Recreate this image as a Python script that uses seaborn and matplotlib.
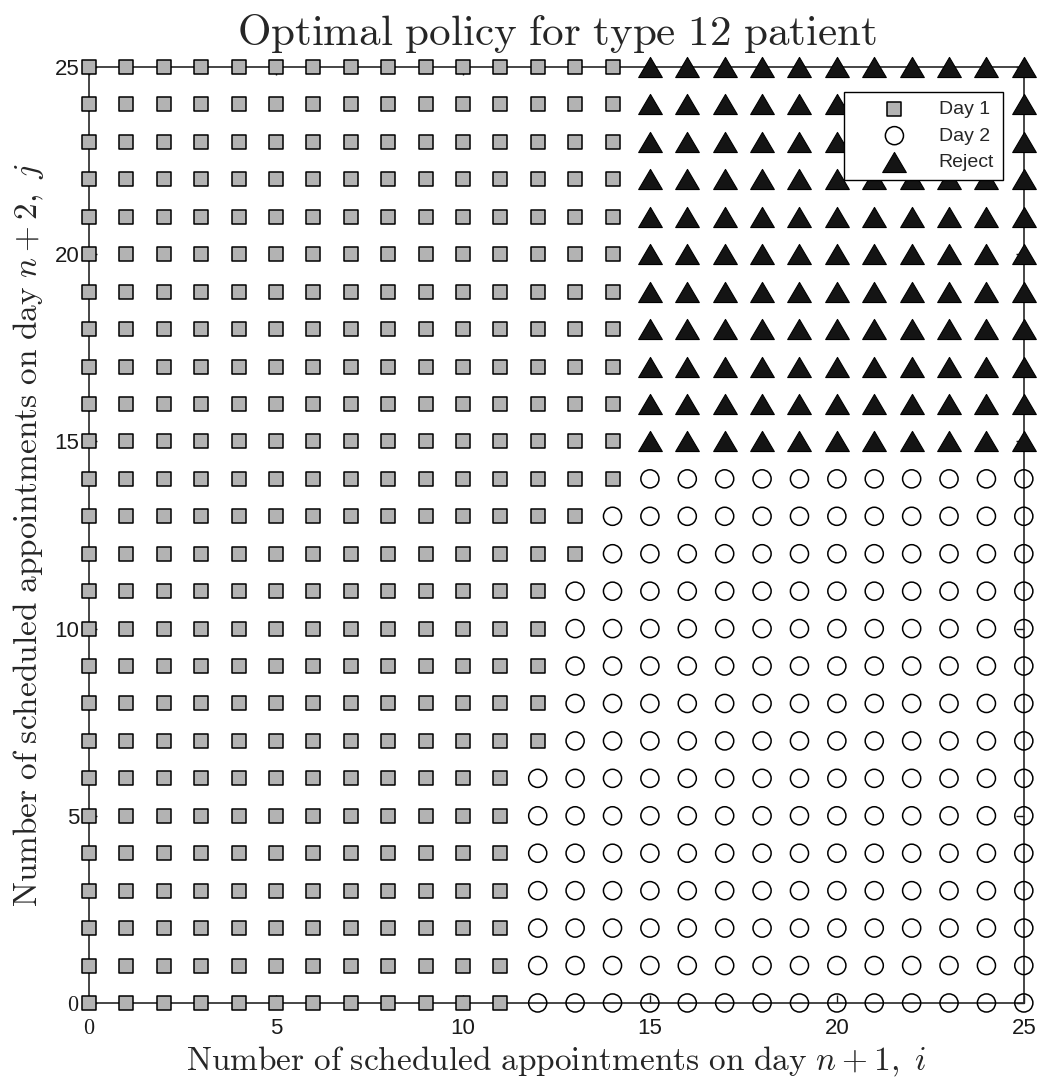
import matplotlib
matplotlib.use("Agg")
import matplotlib.pyplot as plt
import seaborn as sns
import pandas as pd
from matplotlib.markers import MarkerStyle
from matplotlib.path import Path

# Grid of states: scheduled appointments on day n+1 (i) and day n+2 (j)
i_values = list(range(26))
j_values = list(range(26))

# For each row j, the largest i at which the patient is booked on day 1
last_day1_i = [11, 11, 11, 11, 11, 11, 11,
               12, 12, 12, 12, 12,
               13, 13,
               14,
               14, 14, 14, 14, 14, 14, 14, 14, 14, 14, 14]
# Action taken to the right of the day-1 region, per row j
beyond_action = ["Day 2"] * 15 + ["Reject"] * 11

labels = ["Day 1", "Day 2", "Reject"]
tick_values = [0, 5, 10, 15, 20, 25]
tick_labels = [r"$0$", "5", "10", "15", "20", "25"]

rows = []
for j in j_values:
    for i in i_values:
        action = "Day 1" if i <= last_day1_i[j] else beyond_action[j]
        rows.append({"i": i, "j": j, "action": action})
df = pd.DataFrame(rows)

sns.set_style("ticks")
plt.rcParams["font.family"] = ["Liberation Sans", "DejaVu Sans"]
plt.rcParams["mathtext.fontset"] = "cm"

fig = plt.figure(figsize=(10.41, 10.78), dpi=100)
ax = fig.add_axes([0.0855, 0.0696, 0.898, 0.8682])

tri = MarkerStyle(Path([(0, 0.85), (-1, -0.85), (1, -0.85), (0, 0.85)],
                       [Path.MOVETO, Path.LINETO, Path.LINETO, Path.CLOSEPOLY]))

styles = {
    "Day 1": dict(marker="s", s=115, color="#b3b3b3", facecolor="#b3b3b3",
                  edgecolor="black", linewidth=1.1),
    "Day 2": dict(marker="o", s=170, color="black", facecolor="none",
                  edgecolor="black", linewidth=1.1),
    "Reject": dict(marker=tri, s=290, color="#141414", facecolor="#141414",
                   edgecolor="black", linewidth=0.8),
}

for lab in labels:
    sub = df[df["action"] == lab]
    sns.scatterplot(data=sub, x="i", y="j", ax=ax, label=lab,
                    clip_on=False, zorder=3, legend=False, **styles[lab])

ax.set_xlim(0, 25)
ax.set_ylim(0, 25)
ax.set_xticks(tick_values)
ax.set_yticks(tick_values)
ax.set_xticklabels(tick_labels)
ax.set_yticklabels(tick_labels)
ax.tick_params(direction="in", top=True, right=True, length=6, width=1,
               labelsize=16, colors="#1a1a1a")
ax.tick_params(axis="x", pad=11)
ax.tick_params(axis="y", pad=7)
for sp in ax.spines.values():
    sp.set_linewidth(1.2)
    sp.set_color("#262626")

ax.set_title(r"$\mathrm{Optimal\ policy\ for\ type\ 12\ patient}$",
             fontsize=31, pad=16)
ax.set_xlabel(r"$\mathrm{Number\ of\ scheduled\ appointments\ on\ day\ }n+1,\ i$",
              fontsize=24, labelpad=4)
ax.set_ylabel(r"$\mathrm{Number\ of\ scheduled\ appointments\ on\ day\ }n+2,\ j$",
              fontsize=24, labelpad=6)

leg = ax.legend(loc="upper right", bbox_to_anchor=(0.9775, 0.9733),
                borderaxespad=0, fontsize=14, frameon=True, fancybox=False,
                edgecolor="black", framealpha=1, scatterpoints=1,
                labelspacing=0.45, handlelength=4.25, handletextpad=0.15,
                borderpad=0.45)
leg.get_frame().set_linewidth(1.0)
leg.set_zorder(5)

fig.savefig("out.png", dpi=100)
